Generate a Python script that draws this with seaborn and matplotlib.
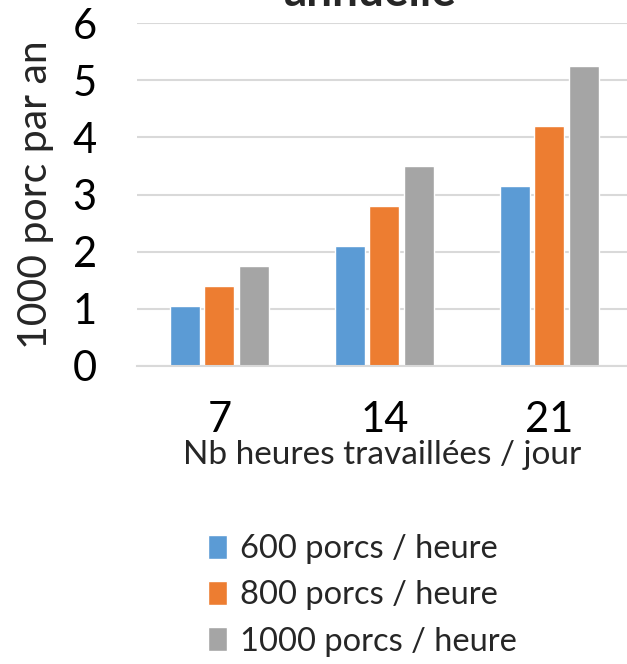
import matplotlib
matplotlib.use("Agg")
import matplotlib.pyplot as plt
import seaborn as sns
import pandas as pd

# heures travaillées par jour
hours = ["7", "14", "21"]
# production annuelle (milliers de porcs) par cadence
series_names = ["600 porcs / heure", "800 porcs / heure", "1000 porcs / heure"]
vals_600 = [1.05, 2.1, 3.15]
vals_800 = [1.4, 2.8, 4.2]
vals_1000 = [1.75, 3.5, 5.25]
colors = ["#5B9BD5", "#ED7D31", "#A5A5A5"]

df = pd.DataFrame({
    "hours": hours * 3,
    "serie": [series_names[0]] * 3 + [series_names[1]] * 3 + [series_names[2]] * 3,
    "value": vals_600 + vals_800 + vals_1000,
})

sns.set_style("white")
plt.rcParams["font.family"] = ["Lato", "DejaVu Sans"]

fig = plt.figure(figsize=(6.27, 6.64), dpi=100)
ax = fig.add_axes([0.2185, 0.449, 0.7815, 0.516])

sns.barplot(data=df, x="hours", y="value", hue="serie", order=hours,
            hue_order=series_names, palette=colors, width=0.62, gap=0.12,
            saturation=1, ax=ax, legend=True)

ax.set_ylim(0, 6)
ax.set_xlim(-0.5, 2.47)
ax.set_yticks(range(0, 7))
ax.yaxis.grid(True, color="#D9D9D9", linewidth=1.5)
ax.set_axisbelow(True)
for s in ["top", "right", "left"]:
    ax.spines[s].set_visible(False)
ax.spines["bottom"].set_color("#D9D9D9")
ax.spines["bottom"].set_linewidth(1.5)
ax.tick_params(axis="both", length=0, labelsize=30, colors="black")
ax.tick_params(axis="y", pad=29)
ax.tick_params(axis="x", pad=25)

ax.set_xlabel("Nb heures travaillées / jour", fontsize=24, labelpad=1)
ax.set_ylabel("1000 porc par an", fontsize=29.5, labelpad=13)

leg = ax.legend(loc="upper center", bbox_to_anchor=(0.46, -0.405), frameon=False,
                fontsize=23.5, handlelength=0.6, handleheight=0.75,
                handletextpad=0.4, labelspacing=0.5)

fig.text(0.59, 1 - 6 / 664, "annuelle", ha="center", va="baseline",
         fontsize=33, fontweight="bold")

fig.savefig("out.png", dpi=100)
